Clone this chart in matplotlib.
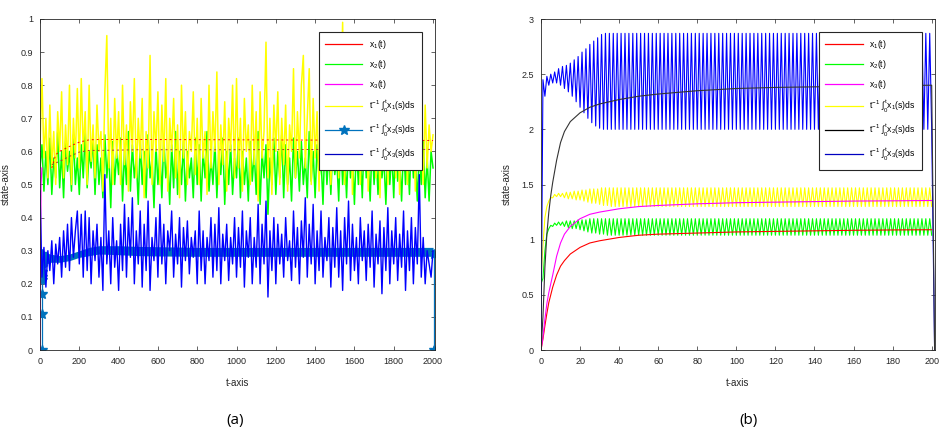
import numpy as np
import matplotlib
matplotlib.use("Agg")
import matplotlib.pyplot as plt
from matplotlib.lines import Line2D

# ---------------- panel (a): values ----------------
t_a = np.arange(0, 2001, 10)

yellow_a = [
    0.62, 0.82, 0.58, 0.70, 0.52, 0.74, 0.55, 0.66, 0.50, 0.72, 0.60, 0.78, 0.52, 0.68, 0.56, 0.80, 0.50, 0.70, 0.58, 0.79,
    0.55, 0.82, 0.60, 0.72, 0.50, 0.80, 0.57, 0.68, 0.52, 0.74, 0.60, 0.66, 0.48, 0.78, 0.95, 0.55, 0.70, 0.50, 0.76, 0.58,
    0.72, 0.50, 0.80, 0.56, 0.68, 0.48, 0.75, 0.60, 0.82, 0.52, 0.70, 0.58, 0.76, 0.46, 0.66, 0.55, 0.89, 0.50, 0.72, 0.60,
    0.78, 0.50, 0.74, 0.57, 0.82, 0.48, 0.70, 0.60, 0.76, 0.52, 0.68, 0.46, 0.80, 0.58, 0.72, 0.50, 0.66, 0.60, 0.78, 0.53,
    0.70, 0.50, 0.76, 0.58, 0.66, 0.47, 0.80, 0.55, 0.72, 0.60, 0.84, 0.50, 0.68, 0.56, 0.75, 0.48, 0.70, 0.60, 0.80, 0.52,
    0.82, 0.55, 0.70, 0.48, 0.76, 0.60, 0.68, 0.50, 0.80, 0.56, 0.72, 0.45, 0.78, 0.58, 0.66, 0.93, 0.52, 0.70, 0.47, 0.74,
    0.60, 0.78, 0.50, 0.70, 0.56, 0.74, 0.48, 0.68, 0.60, 0.85, 0.52, 0.72, 0.58, 0.80, 0.89, 0.55, 0.70, 0.85, 0.50, 0.76,
    0.58, 0.72, 0.48, 0.80, 0.55, 0.70, 0.60, 0.76, 0.50, 0.68, 0.57, 0.82, 0.52, 0.74, 0.99, 0.50, 0.70, 0.58, 0.78, 0.47,
    0.72, 0.56, 0.80, 0.50, 0.70, 0.60, 0.76, 0.48, 0.68, 0.57, 0.82, 0.52, 0.72, 0.46, 0.78, 0.58, 0.70, 0.50, 0.75, 0.60,
    0.80, 0.52, 0.70, 0.47, 0.76, 0.58, 0.68, 0.50, 0.75, 0.60, 0.72, 0.48, 0.70, 0.56, 0.66, 0.50, 0.74, 0.55, 0.68, 0.60,
    0.65,
]

green_a = [
    0.55, 0.62, 0.48, 0.60, 0.50, 0.64, 0.47, 0.58, 0.52, 0.66, 0.49, 0.60, 0.46, 0.63, 0.54, 0.60, 0.48, 0.65, 0.50, 0.58,
    0.47, 0.62, 0.52, 0.66, 0.49, 0.60, 0.55, 0.64, 0.47, 0.62, 0.50, 0.58, 0.46, 0.65, 0.52, 0.60, 0.43, 0.63, 0.50, 0.60,
    0.53, 0.64, 0.45, 0.60, 0.50, 0.66, 0.48, 0.62, 0.52, 0.58, 0.44, 0.63, 0.50, 0.60, 0.46, 0.65, 0.52, 0.58, 0.43, 0.62,
    0.50, 0.60, 0.46, 0.64, 0.52, 0.58, 0.44, 0.62, 0.49, 0.66, 0.47, 0.60, 0.50, 0.63, 0.45, 0.60, 0.52, 0.58, 0.46, 0.64,
    0.50, 0.62, 0.45, 0.60, 0.52, 0.66, 0.48, 0.58, 0.50, 0.63, 0.46, 0.60, 0.53, 0.64, 0.44, 0.60, 0.50, 0.62, 0.47, 0.58,
    0.52, 0.64, 0.46, 0.60, 0.50, 0.58, 0.45, 0.63, 0.51, 0.60, 0.47, 0.66, 0.44, 0.60, 0.52, 0.62, 0.41, 0.58, 0.50, 0.64,
    0.47, 0.60, 0.52, 0.65, 0.46, 0.62, 0.50, 0.58, 0.45, 0.64, 0.52, 0.60, 0.48, 0.63, 0.50, 0.58, 0.46, 0.66, 0.51, 0.60,
    0.46, 0.62, 0.52, 0.58, 0.44, 0.64, 0.50, 0.60, 0.47, 0.62, 0.53, 0.58, 0.45, 0.65, 0.50, 0.60, 0.46, 0.63, 0.52, 0.58,
    0.44, 0.62, 0.50, 0.60, 0.46, 0.66, 0.52, 0.58, 0.45, 0.63, 0.50, 0.60, 0.47, 0.64, 0.52, 0.58, 0.44, 0.62, 0.50, 0.60,
    0.46, 0.64, 0.51, 0.58, 0.45, 0.62, 0.50, 0.60, 0.47, 0.65, 0.52, 0.58, 0.45, 0.60, 0.50, 0.63, 0.46, 0.58, 0.45, 0.60,
    0.55,
]

blue_a = [
    0.48, 0.22, 0.31, 0.19, 0.30, 0.24, 0.33, 0.20, 0.32, 0.26, 0.34, 0.22, 0.36, 0.25, 0.38, 0.24, 0.40, 0.28, 0.36, 0.42,
    0.26, 0.41, 0.22, 0.42, 0.24, 0.40, 0.20, 0.36, 0.27, 0.38, 0.22, 0.34, 0.18, 0.53, 0.26, 0.36, 0.20, 0.40, 0.25, 0.33,
    0.18, 0.38, 0.24, 0.44, 0.22, 0.40, 0.28, 0.46, 0.20, 0.36, 0.26, 0.42, 0.19, 0.38, 0.24, 0.45, 0.18, 0.34, 0.27, 0.40,
    0.22, 0.44, 0.26, 0.38, 0.20, 0.36, 0.30, 0.42, 0.22, 0.35, 0.26, 0.40, 0.19, 0.37, 0.27, 0.39, 0.23, 0.34, 0.28, 0.36,
    0.20, 0.42, 0.24, 0.36, 0.20, 0.34, 0.27, 0.40, 0.22, 0.38, 0.24, 0.43, 0.20, 0.35, 0.27, 0.38, 0.21, 0.34, 0.26, 0.40,
    0.22, 0.37, 0.25, 0.42, 0.19, 0.36, 0.28, 0.40, 0.20, 0.34, 0.25, 0.44, 0.20, 0.38, 0.26, 0.45, 0.16, 0.36, 0.24, 0.40,
    0.20, 0.38, 0.26, 0.35, 0.22, 0.40, 0.27, 0.33, 0.21, 0.42, 0.25, 0.37, 0.20, 0.39, 0.28, 0.46, 0.22, 0.38, 0.26, 0.44,
    0.20, 0.36, 0.24, 0.42, 0.22, 0.34, 0.27, 0.40, 0.19, 0.37, 0.25, 0.43, 0.22, 0.36, 0.18, 0.40, 0.26, 0.45, 0.21, 0.38,
    0.24, 0.34, 0.20, 0.40, 0.27, 0.36, 0.21, 0.38, 0.25, 0.42, 0.19, 0.35, 0.26, 0.39, 0.17, 0.37, 0.24, 0.43, 0.20, 0.36,
    0.26, 0.40, 0.21, 0.35, 0.25, 0.42, 0.18, 0.36, 0.24, 0.40, 0.20, 0.37, 0.26, 0.53, 0.22, 0.34, 0.20, 0.30, 0.26, 0.22,
    0.30,
]

# time averages (dotted red lines under the noise)
avg1_t = [60, 80, 100, 150, 200, 250, 300, 500, 1000, 1500, 2000]
avg1_y = [0.55, 0.59, 0.60, 0.615, 0.628, 0.635, 0.636, 0.636, 0.635, 0.634, 0.633]
avg2_t = [60, 100, 150, 200, 250, 300, 500, 1000, 1500, 2000]
avg2_y = [0.56, 0.57, 0.585, 0.598, 0.603, 0.603, 0.605, 0.605, 0.606, 0.606]

# star series: band envelope plus the vertical start / end with markers
band_t = [10, 50, 100, 150, 200, 250, 300, 400, 500, 600, 800, 1000, 1200, 1400, 1600, 1800, 2000]
band_lo = [0.25, 0.265, 0.265, 0.27, 0.28, 0.285, 0.29, 0.288, 0.285, 0.284, 0.283, 0.283, 0.283, 0.283, 0.283, 0.283, 0.283]
band_hi = [0.30, 0.29, 0.285, 0.29, 0.30, 0.31, 0.315, 0.315, 0.313, 0.312, 0.31, 0.31, 0.31, 0.31, 0.31, 0.31, 0.31]
star_start_t = [8, 8, 8, 8, 8, 8, 8, 8, 8]
star_start_y = [0.0, 0.11, 0.17, 0.21, 0.22, 0.235, 0.25, 0.27, 0.29]
star_end_t = [2005, 2005]
star_end_y = [0.29, 0.0]

mag_a_t = [0, 5, 10]
mag_a_y = [0.0, 0.5, 0.55]

# ---------------- panel (b) ----------------
t_b = np.arange(0, 201)     # one sample per time unit, zigzag period 2

blue_b_hi = [2.45, 2.48, 2.50, 2.52, 2.55, 2.57, 2.58, 2.60, 2.63, 2.66, 2.70, 2.73, 2.77, 2.80, 2.83, 2.86] + [2.87] * 84
blue_b_lo = [2.30, 2.40, 2.42, 2.42, 2.40, 2.37, 2.34, 2.30, 2.25, 2.20, 2.15, 2.10, 2.06, 2.03, 2.01] + [2.00] * 85
yel_b_hi = [0.95, 1.30, 1.38, 1.41, 1.42, 1.42, 1.43, 1.43, 1.44, 1.44, 1.45, 1.45, 1.46, 1.46, 1.46] + [1.47] * 85
yel_b_lo = [1.20, 1.35, 1.38, 1.39, 1.39, 1.38, 1.37, 1.37, 1.36, 1.36, 1.35, 1.34, 1.33, 1.33, 1.32, 1.31, 1.31] + [1.30] * 83
grn_b_hi = [0.65, 1.05, 1.13, 1.15, 1.16, 1.16, 1.17, 1.17, 1.17, 1.18, 1.18, 1.18] + [1.19] * 88
grn_b_lo = [0.90, 1.10, 1.12, 1.13, 1.13, 1.12, 1.11, 1.10, 1.10, 1.09, 1.08, 1.07, 1.06, 1.06, 1.05, 1.05] + [1.04] * 84
blue_b_start, yel_b_start, grn_b_start = 0.0, 0.62, 0.60

t_s = [0, 1, 2, 3, 4, 5, 6, 8, 10, 12, 15, 20, 25, 30, 40, 50, 60, 80, 100, 120, 140, 160, 180, 200]
black_b = [0, 0.30, 0.75, 1.05, 1.25, 1.40, 1.52, 1.72, 1.88, 1.98, 2.07, 2.15, 2.20, 2.23, 2.27, 2.30, 2.32, 2.35, 2.37, 2.38, 2.385, 2.39, 2.395, 2.40]
magenta_b = [0, 0.12, 0.28, 0.42, 0.52, 0.60, 0.68, 0.85, 0.97, 1.05, 1.12, 1.19, 1.23, 1.25, 1.28, 1.30, 1.31, 1.325, 1.335, 1.34, 1.345, 1.35, 1.352, 1.355]
red_b = [0, 0.10, 0.22, 0.33, 0.43, 0.50, 0.57, 0.68, 0.76, 0.81, 0.87, 0.93, 0.97, 0.99, 1.02, 1.04, 1.05, 1.06, 1.07, 1.075, 1.08, 1.085, 1.088, 1.09]

legend_labels = [r'x$_{1}$(t)', r'x$_{2}$(t)', r'x$_{3}$(t)',
                 r't$^{-1}$ $\int_0^t$x$_{1}$(s)ds',
                 r't$^{-1}$ $\int_0^t$x$_{2}$(s)ds',
                 r't$^{-1}$ $\int_0^t$x$_{3}$(s)ds']

STEEL = '#0072BD'
GREY = '#262626'
plt.rcParams['font.family'] = ['Liberation Sans', 'DejaVu Sans']
plt.rcParams['mathtext.fontset'] = 'custom'
plt.rcParams['mathtext.rm'] = 'Liberation Sans'
plt.rcParams['mathtext.it'] = 'Liberation Sans'


def zigzag(start, hi, lo):
    # interleave the read-off peaks: t=1 hi, t=2 lo, t=3 hi ...
    vals = [start]
    for h, l in zip(hi, lo):
        vals += [h, l]
    return np.array(vals)


def style_axes(ax, xlim, ylim, xticks, yticks):
    ax.set_xlim(*xlim)
    ax.set_ylim(*ylim)
    ax.set_xticks(xticks)
    ax.set_yticks(yticks)
    ax.tick_params(direction='in', top=True, right=True, length=3, width=0.5,
                   labelsize=6.5, colors=GREY, pad=5)
    for s in ax.spines.values():
        s.set_color(GREY)
        s.set_linewidth(0.6)
    ax.set_xlabel('t-axis', fontsize=7, color=GREY, labelpad=9)
    ax.set_ylabel('state-axis', fontsize=7, color=GREY, labelpad=7)


def add_legend(ax, handles):
    leg = ax.legend(handles, legend_labels, loc='upper right', bbox_to_anchor=(0.968, 0.962),
                    fontsize=6.2, handlelength=4.3, labelspacing=0.8, borderpad=0.75,
                    handletextpad=0.8, fancybox=False, framealpha=1, borderaxespad=0)
    leg.get_frame().set_edgecolor(GREY)
    leg.get_frame().set_linewidth(0.8)


fig = plt.figure(figsize=(9.43, 4.36), dpi=100)

# (a)
ax1 = fig.add_axes([40 / 943, 86 / 436, 395 / 943, 331 / 436])
ax1.plot(t_a, green_a, color='#00FF00', lw=1.1)
ax1.plot(t_a, yellow_a, color='#FFFF00', lw=1.1)
ax1.plot(avg1_t, avg1_y, color='#FF0000', lw=0.7, ls=(0, (2, 3)))
ax1.plot(avg2_t, avg2_y, color='#B03030', lw=0.7, ls=(0, (2, 3)))
ax1.fill_between(band_t, band_lo, band_hi, color=STEEL, lw=0)
ax1.plot(star_start_t, star_start_y, color=STEEL, lw=0.9, marker='*', ms=7)
ax1.plot(star_end_t, star_end_y, color=STEEL, lw=0.9, marker='*', ms=7)
ax1.plot(mag_a_t, mag_a_y, color='#FF00FF', lw=0.9)
ax1.plot(t_a, blue_a, color='#0000FF', lw=1.0)
style_axes(ax1, (0, 2010), (0, 1), np.arange(0, 2001, 200), np.round(np.arange(0, 1.01, 0.1), 1))
ax1.set_yticklabels(['0', '0.1', '0.2', '0.3', '0.4', '0.5', '0.6', '0.7', '0.8', '0.9', '1'])
handles_a = [Line2D([], [], color='#FF0000', lw=0.9), Line2D([], [], color='#00FF00', lw=0.9),
             Line2D([], [], color='#FF00FF', lw=0.9), Line2D([], [], color='#FFFF00', lw=0.9),
             Line2D([], [], color=STEEL, lw=0.9, marker='*', ms=7),
             Line2D([], [], color='#0000C0', lw=0.9)]
add_legend(ax1, handles_a)

# (b)
ax2 = fig.add_axes([541 / 943, 86 / 436, 394 / 943, 331 / 436])
t_end = [200, 201.5]
ax2.plot(t_b, zigzag(yel_b_start, yel_b_hi, yel_b_lo), color='#FFFF00', lw=0.8)
ax2.plot(t_b, zigzag(grn_b_start, grn_b_hi, grn_b_lo), color='#00FF00', lw=0.8)
blue_line = zigzag(blue_b_start, blue_b_hi, blue_b_lo)
ax2.plot(np.append(t_b, t_end[1]), np.append(blue_line, 0), color='#0000FF', lw=0.8)
ax2.plot(t_s, red_b, color='#FF0000', lw=0.8)
ax2.plot(t_s, magenta_b, color='#FF00FF', lw=0.8)
ax2.plot(t_s + t_end[1:], black_b + [0], color='#333333', lw=0.8)
style_axes(ax2, (0, 201.7), (0, 3), np.arange(0, 201, 20), np.arange(0, 3.01, 0.5))
ax2.set_yticklabels(['0', '0.5', '1', '1.5', '2', '2.5', '3'])
handles_b = [Line2D([], [], color='#FF0000', lw=0.9), Line2D([], [], color='#00FF00', lw=0.9),
             Line2D([], [], color='#FF00FF', lw=0.9), Line2D([], [], color='#FFFF00', lw=0.9),
             Line2D([], [], color='black', lw=0.9), Line2D([], [], color='#0000C0', lw=0.9)]
add_legend(ax2, handles_b)

fig.text(235 / 943, 1 - 420 / 436, '(a)', ha='center', va='center', fontsize=11, family='Open Sans')
fig.text(748 / 943, 1 - 420 / 436, '(b)', ha='center', va='center', fontsize=11, family='Open Sans')

fig.savefig('out.png', dpi=100)
